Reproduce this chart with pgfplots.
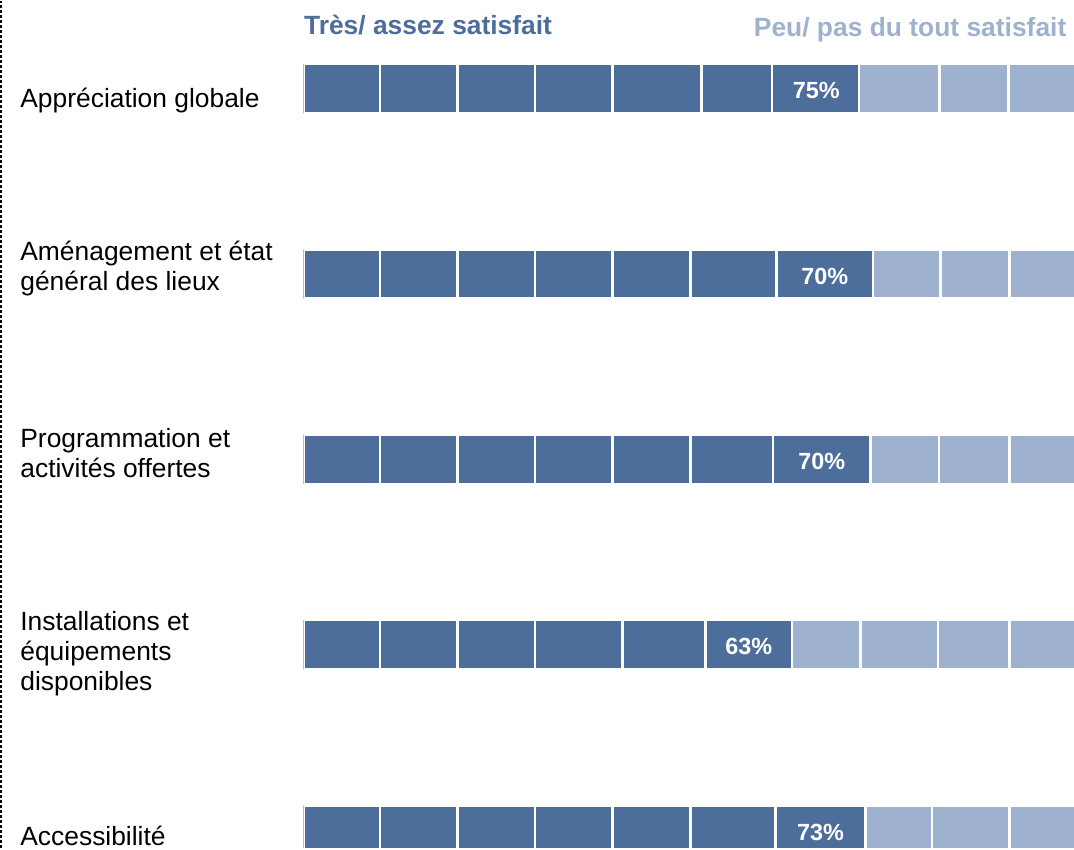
\documentclass[border=0pt]{standalone}
\usepackage{pgfplots}
\usepackage{pgfplotstable}
\pgfplotsset{compat=1.18}
\usepackage{fontspec}
\setmainfont{Liberation Sans}

\definecolor{darkblue}{HTML}{4D6D9B}
\definecolor{lightblue}{HTML}{9EB1CF}

% right edge of each cell (0 = start of the bar)
% D = dark cells, L = light cells
\pgfplotstableread{
row D1 D2 D3 D4 D5 D6 D7 L1 L2 L3 L4
1 76 153.5 231 308.5 397 467.5 554.5 635 703.5 770 770
2 76 153.5 231 308.5 386 472 568.5 636 704.5 770 770
3 76 153.5 231 308.5 386 468.5 566 634.5 704.5 770 770
4 76 153.5 231 318.5 401 487.5 487.5 556 633.5 704.5 770
5 76 153.5 231 308.5 386 471 561 627.5 704.5 770 770
}\cells

\pgfplotstableread{
x y lab
511.7 1 75\%
520.3 2 70\%
517.3 3 70\%
444.3 4 63\%
516 5 73\%
}\pct

\begin{document}
\begin{tikzpicture}
\begin{axis}[
    width=385pt, height=423.5pt, scale only axis,
    xmin=0, xmax=769,
    ymin=0.528, ymax=5.0966,
    y dir=reverse,
    axis line style={draw=none},
    major tick length=0pt,
    xtick=\empty,
    ytick={1.062,1.968,2.966,4.050,5.033},
    yticklabels={Appréciation globale,
                 {Aménagement et état\\général des lieux},
                 {Programmation et\\activités offertes},
                 {Installations et\\équipements\\disponibles},
                 Accessibilité},
    yticklabel style={anchor=west, align=left, inner sep=0pt, xshift=-142pt,
        font=\fontsize{13.2}{15}\selectfont},
    cell/.style={xbar, bar width=24.5pt, bar shift=0pt, draw=white, line width=1.3pt},
]
\addplot[cell, fill=lightblue] table[x=L4, y=row] {\cells};
\addplot[cell, fill=lightblue] table[x=L3, y=row] {\cells};
\addplot[cell, fill=lightblue] table[x=L2, y=row] {\cells};
\addplot[cell, fill=lightblue] table[x=L1, y=row] {\cells};
\addplot[cell, fill=darkblue] table[x=D7, y=row] {\cells};
\addplot[cell, fill=darkblue] table[x=D6, y=row] {\cells};
\addplot[cell, fill=darkblue] table[x=D5, y=row] {\cells};
\addplot[cell, fill=darkblue] table[x=D4, y=row] {\cells};
\addplot[cell, fill=darkblue] table[x=D3, y=row] {\cells};
\addplot[cell, fill=darkblue] table[x=D2, y=row] {\cells};
\addplot[cell, fill=darkblue] table[x=D1, y=row] {\cells};

\addplot[draw=none, mark=none, nodes near coords, point meta=explicit symbolic,
    every node near coord/.append style={anchor=base, yshift=-5.1pt, text=white,
        font=\bfseries\fontsize{11.7}{14}\selectfont}]
    table[x=x, y=y, meta=lab] {\pct};

\node[anchor=base, text=darkblue, font=\bfseries\fontsize{13.2}{15}\selectfont]
    at (axis cs:124,0.708) {Très/ assez satisfait};
\node[anchor=base, text=lightblue, font=\bfseries\fontsize{13.2}{15}\selectfont]
    at (axis cs:605.5,0.717) {Peu/ pas du tout satisfait};
\end{axis}
\draw[line width=1.1pt, dash pattern=on 1.5pt off 1pt]
    ([xshift=-151.4pt]current axis.south west) -- ([xshift=-151.4pt]current axis.north west);
\path ([xshift=-152pt]current axis.south west);
\end{tikzpicture}
\end{document}
